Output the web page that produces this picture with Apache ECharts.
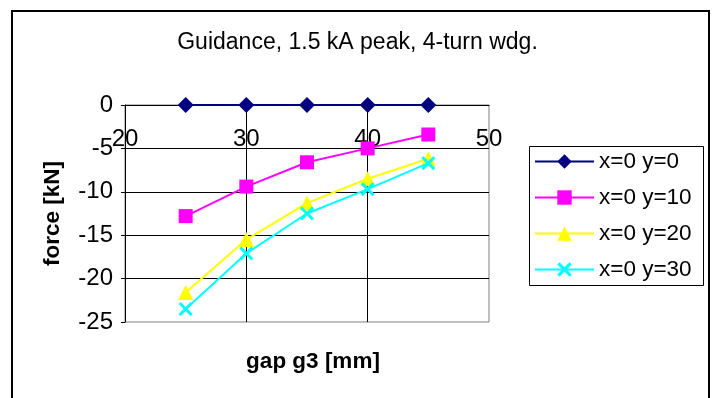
<!DOCTYPE html>
<html>
<head>
<meta charset="utf-8">
<script src="https://cdn.jsdelivr.net/npm/echarts@6/dist/echarts.min.js"></script>
<style>html,body{margin:0;padding:0;background:#fff;}#c{width:715px;height:398px;}</style>
</head>
<body>
<div id="c"></div>
<script>
const titleText = 'Guidance, 1.5 kA peak, 4-turn wdg.';
const xName = 'gap g3 [mm]';
const yName = 'force [kN]';
const gaps = [25, 30, 35, 40, 45];
const seriesNames = ['x=0 y=0', 'x=0 y=10', 'x=0 y=20', 'x=0 y=30'];
const forceY0 = [0, 0, 0, 0, 0];
const forceY10 = [-12.8, -9.4, -6.6, -5.0, -3.4];
const forceY20 = [-21.6, -15.5, -11.3, -8.5, -6.2];
const forceY30 = [-23.5, -17.1, -12.5, -9.7, -6.7];
const xTicks = [20, 30, 40, 50];
const yTicks = [-25, -20, -15, -10, -5, 0];

const FONT = 'Liberation Sans, Arial, sans-serif';
const xMark = 'path://M0,1.5 L1.5,0 L5,3.5 L8.5,0 L10,1.5 L6.5,5 L10,8.5 L8.5,10 L5,6.5 L1.5,10 L0,8.5 L3.5,5 Z';
const colors = ['#000080', '#FF00FF', '#FFFF00', '#00FFFF'];
const symbols = ['diamond', 'rect', 'triangle', xMark];
const sizes = [16, 14, 15, 14];
const dataSets = [forceY0, forceY10, forceY20, forceY30];

const chart = echarts.init(document.getElementById('c'), null, {renderer: 'canvas'});
chart.setOption({
  animation: false,
  backgroundColor: '#fff',
  title: [
    {text: titleText, left: 'center', top: 26, textStyle: {fontFamily: FONT, fontSize: 23, fontWeight: 'normal', color: '#000'}},
    {text: xName, left: 308, textAlign: 'center', top: 345, textStyle: {fontFamily: FONT, fontSize: 22.5, fontWeight: 'bold', color: '#000'}}
  ],
  grid: {left: 125, right: 226, top: 105, bottom: 76, show: true, borderColor: '#808080', borderWidth: 1, backgroundColor: 'transparent'},
  xAxis: {
    type: 'value', position: 'top', min: xTicks[0], max: xTicks[xTicks.length - 1], interval: 10,
    axisLine: {show: true, lineStyle: {color: '#000', width: 1}},
    axisTick: {show: false},
    axisLabel: {inside: true, margin: 22, fontFamily: FONT, fontSize: 24, color: '#000',
      formatter: v => xTicks.includes(v) ? String(v) : ''},
    splitLine: {show: true, showMaxLine: false, lineStyle: {color: '#000', width: 1}}
  },
  yAxis: {
    type: 'value', min: yTicks[0], max: yTicks[yTicks.length - 1], interval: 5,
    name: yName, nameLocation: 'middle', nameGap: 61, nameRotate: 90,
    nameTextStyle: {fontFamily: FONT, fontSize: 22.5, fontWeight: 'bold', color: '#000'},
    axisLine: {show: true, lineStyle: {color: '#000', width: 1}},
    axisTick: {show: true, length: 4, lineStyle: {color: '#000'}},
    axisLabel: {margin: 12, fontFamily: FONT, fontSize: 24, color: '#000'},
    splitLine: {show: true, showMinLine: false, lineStyle: {color: '#000', width: 1}}
  },
  legend: {
    orient: 'vertical', left: 534, top: 150, padding: 0, itemWidth: 59, itemHeight: 18, itemGap: 13,
    textStyle: {fontFamily: FONT, fontSize: 22.5, color: '#000', lineHeight: 16},
    data: seriesNames
  },
  graphic: [
    {type: 'rect', left: 527, top: 144, shape: {width: 174, height: 139}, style: {fill: 'none', stroke: '#000', lineWidth: 1}, z: 100, silent: true},
    {type: 'rect', shape: {x: 12, y: 11, width: 697, height: 420}, style: {fill: 'none', stroke: '#000', lineWidth: 2}, z: 100, silent: true}
  ],
  series: seriesNames.map((n, i) => ({
    name: n, type: 'line',
    data: gaps.map((g, j) => [g, dataSets[i][j]]),
    symbol: symbols[i], symbolSize: sizes[i], showAllSymbol: true,
    lineStyle: {color: colors[i], width: 2},
    itemStyle: {color: colors[i], borderWidth: 0},
    z: 3 + i
  }))
});
</script>
</body>
</html>
